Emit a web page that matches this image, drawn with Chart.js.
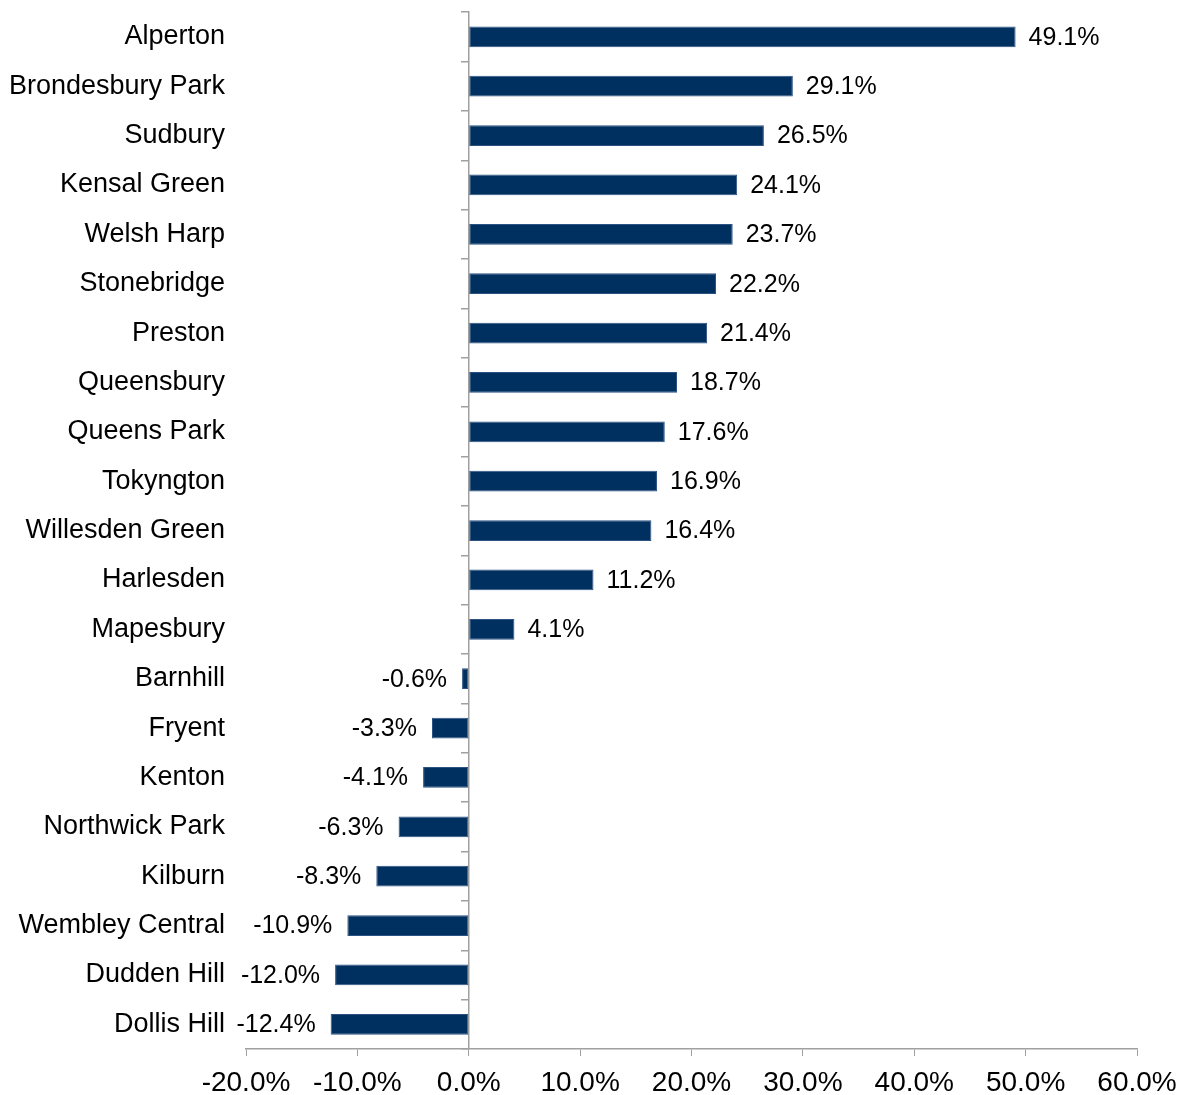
<!DOCTYPE html>
<html>
<head>
<meta charset="utf-8">
<script src="https://cdn.jsdelivr.net/npm/chart.js@4/dist/chart.umd.min.js"></script>
<style>
  html, body { margin: 0; padding: 0; background: #fff; }
  #wrap { width: 1191px; height: 1095px; }
</style>
</head>
<body>
<div id="wrap"><canvas id="chart"></canvas></div>
<script>
const wards = [
  "Alperton", "Brondesbury Park", "Sudbury", "Kensal Green", "Welsh Harp",
  "Stonebridge", "Preston", "Queensbury", "Queens Park", "Tokyngton",
  "Willesden Green", "Harlesden", "Mapesbury", "Barnhill", "Fryent",
  "Kenton", "Northwick Park", "Kilburn", "Wembley Central", "Dudden Hill", "Dollis Hill"
];
const change = [
  49.1, 29.1, 26.5, 24.1, 23.7,
  22.2, 21.4, 18.7, 17.6, 16.9,
  16.4, 11.2, 4.1, -0.6, -3.3,
  -4.1, -6.3, -8.3, -10.9, -12.0, -12.4
];
const xMin = -20, xMax = 60, xStep = 10;

const FONT = "'Liberation Sans', Arial, sans-serif";
const AXIS = "#a0a0a0";
const BAR  = "#00305f";

const fmt = v => v.toFixed(1) + "%";

// value labels at the end of each bar
const barLabels = {
  id: "barLabels",
  afterDatasetsDraw(chart) {
    const ctx = chart.ctx;
    const meta = chart.getDatasetMeta(0);
    ctx.save();
    ctx.font = "25px " + FONT;
    ctx.fillStyle = "#000";
    ctx.textBaseline = "middle";
    meta.data.forEach((bar, i) => {
      const v = change[i];
      if (v >= 0) {
        ctx.textAlign = "left";
        ctx.fillText(fmt(v), bar.x + 13, bar.y + 1);
      } else {
        ctx.textAlign = "right";
        ctx.fillText(fmt(v), bar.x - 15, bar.y + 1);
      }
    });
    ctx.restore();
  }
};

new Chart(document.getElementById("chart"), {
  type: "bar",
  data: {
    labels: wards,
    datasets: [{
      data: change,
      backgroundColor: BAR,
      borderColor: "#2c5284",
      borderWidth: 1,
      borderSkipped: false,
      barPercentage: 0.42,
      categoryPercentage: 1,
    }],
  },
  options: {
    indexAxis: "y",
    responsive: true,
    maintainAspectRatio: false,
    animation: false,
    layout: { padding: { top: 0, right: 54, bottom: 0, left: 0 } },
    plugins: { legend: { display: false }, tooltip: { enabled: false } },
    scales: {
      x: {
        min: xMin, max: xMax,
        ticks: { stepSize: xStep, callback: v => fmt(v), color: "#000", font: { family: FONT, size: 28, lineHeight: 1 }, padding: 13, maxRotation: 0 },
        grid: { drawOnChartArea: false, drawTicks: true, tickLength: 7, color: AXIS },
        border: { display: true, color: AXIS, width: 1.5 },
        afterFit(scale) { scale.height = 46; },
      },
      y: {
        position: "left",
        ticks: { color: "#000", font: { family: FONT, size: 27, lineHeight: 0.9 }, padding: 0 },
        grid: { display: false, drawTicks: true, tickLength: 21 },
        border: { display: false },
        afterFit(scale) { scale.width = 246; },
      },
      y2: {
        type: "category",
        position: { x: 0 },
        offset: true,
        ticks: { display: false },
        grid: { offset: true, drawOnChartArea: false, drawTicks: true, tickLength: 7, color: AXIS, lineWidth: 1.5 },
        border: { display: true, color: AXIS, width: 1.5 },
      },
    },
  },
  plugins: [barLabels],
});
</script>
</body>
</html>
